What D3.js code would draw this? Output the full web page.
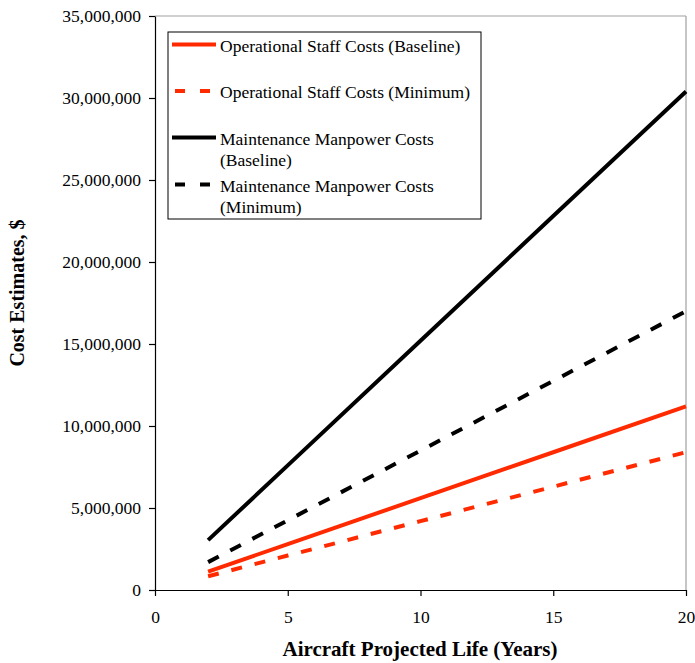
<!DOCTYPE html>
<html>
<head>
<meta charset="utf-8">
<script src="https://cdn.jsdelivr.net/npm/d3@7"></script>
<style>
  body { margin: 0; background: #fff; }
  text { font-family: "Liberation Serif", "Times New Roman", serif; }
</style>
</head>
<body>
<div id="chart"></div>
<script>
// years
const years = [2, 5, 10, 15, 20];
// cost estimates ($)
const opsBaseline = [1120000, 2800000, 5600000, 8400000, 11200000];
const opsMinimum = [840000, 2100000, 4200000, 6300000, 8400000];
const maintBaseline = [3040000, 7600000, 15200000, 22800000, 30400000];
const maintMinimum = [1700000, 4250000, 8500000, 12750000, 17000000];
const xTicks = [0, 5, 10, 15, 20];
const yTicks = [0, 5000000, 10000000, 15000000, 20000000, 25000000, 30000000, 35000000];

const seriesList = [
  { name: ["Operational Staff Costs (Baseline)"], values: opsBaseline, color: "#ff2a00", dash: null },
  { name: ["Operational Staff Costs (Minimum)"], values: opsMinimum, color: "#ff2a00", dash: "11,13" },
  { name: ["Maintenance Manpower Costs", "(Baseline)"], values: maintBaseline, color: "#000", dash: null },
  { name: ["Maintenance Manpower Costs", "(Minimum)"], values: maintMinimum, color: "#000", dash: "12,13" }
];

const W = 695, H = 663;
const margin = { top: 16, right: 9, bottom: 73, left: 155 };
const w = W - margin.left - margin.right;
const h = H - margin.top - margin.bottom;

const svg = d3.select("#chart").append("svg")
  .attr("width", W).attr("height", H);
const g = svg.append("g").attr("transform", `translate(${margin.left},${margin.top})`);

const x = d3.scaleLinear().domain([0, 20]).range([0, w]);
const y = d3.scaleLinear().domain([0, 35000000]).range([h, 0]);

// gray top / right frame
g.append("line").attr("x1", 0).attr("x2", w).attr("y1", 0).attr("y2", 0)
  .attr("stroke", "#a0a0a0").attr("stroke-width", 1.2);
g.append("line").attr("x1", w).attr("x2", w).attr("y1", 0).attr("y2", h)
  .attr("stroke", "#a0a0a0").attr("stroke-width", 1.2);

// axes
const xAxis = g.append("g").attr("transform", `translate(0,${h})`)
  .call(d3.axisBottom(x).tickValues(xTicks).tickSize(6).tickSizeOuter(0).tickPadding(15));
const yAxis = g.append("g")
  .call(d3.axisLeft(y).tickValues(yTicks).tickSize(6).tickSizeOuter(0).tickPadding(8)
    .tickFormat(d3.format(",")));
[xAxis, yAxis].forEach(a => {
  a.selectAll("path, line").attr("stroke", "#000").attr("stroke-width", 1.2);
  a.selectAll("text").attr("fill", "#000").style("font-size", "17.5px")
    .style("font-family", "'Liberation Serif', 'Times New Roman', serif");
});

// lines
const line = d3.line().x((d, i) => x(years[i])).y(d => y(d));
seriesList.forEach(s => {
  g.append("path").datum(s.values)
    .attr("d", line)
    .attr("fill", "none")
    .attr("stroke", s.color)
    .attr("stroke-width", 4)
    .attr("stroke-dasharray", s.dash);
});

// axis titles
svg.append("text")
  .attr("x", 420).attr("y", 656)
  .attr("text-anchor", "middle")
  .style("font-size", "21px").style("font-weight", "bold")
  .text("Aircraft Projected Life (Years)");
svg.append("text")
  .attr("transform", "translate(24,293) rotate(-90)")
  .attr("text-anchor", "middle")
  .style("font-size", "20px").style("font-weight", "bold")
  .text("Cost Estimates, $");

// legend
const legend = svg.append("g").attr("transform", "translate(168,32)");
legend.append("rect").attr("width", 313).attr("height", 187)
  .attr("fill", "#fff").attr("stroke", "#000").attr("stroke-width", 1);
const rowY = [12.5, 59, 105.5, 152.5];
seriesList.forEach((s, i) => {
  const row = legend.append("g").attr("transform", `translate(0,${rowY[i]})`);
  row.append("line").attr("x1", 4).attr("x2", 48).attr("y1", 0).attr("y2", 0)
    .attr("stroke", s.color).attr("stroke-width", 4)
    .attr("stroke-dasharray", s.dash ? "10,15" : null)
    .attr("stroke-dashoffset", s.dash ? -3 : 0);
  s.name.forEach((t, j) => {
    row.append("text").attr("x", 52).attr("y", 7 + j * 21)
      .style("font-size", "17.5px").attr("fill", "#000").text(t);
  });
});
</script>
</body>
</html>
